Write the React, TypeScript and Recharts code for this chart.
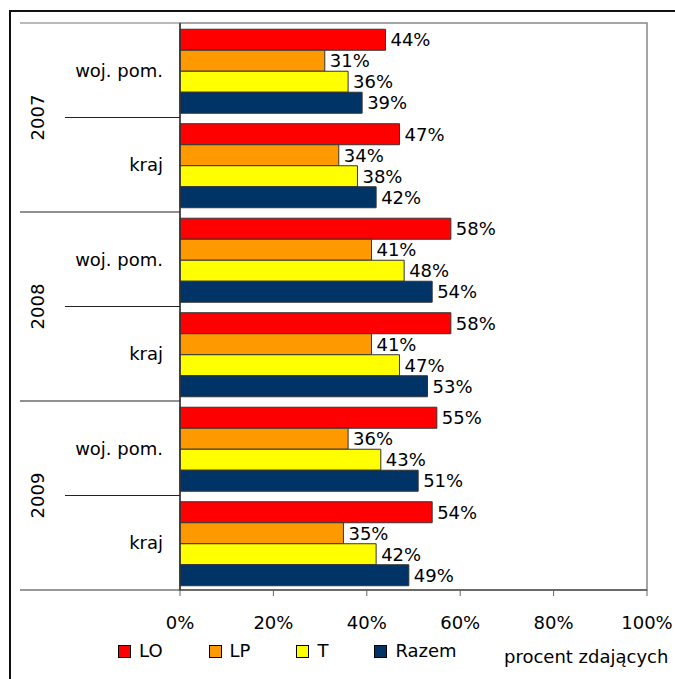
import React from "react";
import { BarChart, Bar, XAxis, YAxis, LabelList, ReferenceArea } from "recharts";

const categories = ["woj. pom.", "kraj", "woj. pom.", "kraj", "woj. pom.", "kraj"];
const years = ["2007", "2007", "2008", "2008", "2009", "2009"];
const lo = [44, 47, 58, 58, 55, 54];
const lp = [31, 34, 41, 41, 36, 35];
const t = [36, 38, 48, 47, 43, 42];
const razem = [39, 42, 54, 53, 51, 49];
const xTicks = [0, 20, 40, 60, 80, 100];

const series = [
  { key: "lo", name: "LO", color: "#FF0000" },
  { key: "lp", name: "LP", color: "#FF9900" },
  { key: "t", name: "T", color: "#FFFF00" },
  { key: "razem", name: "Razem", color: "#003366" },
];

const data = categories.map((name, i) => ({
  name,
  year: years[i],
  lo: lo[i],
  lp: lp[i],
  t: t[i],
  razem: razem[i],
}));

const W = 675;
const H = 679;
const PLOT_LEFT = 180;
const PLOT_TOP = 23;
const PLOT_BOTTOM = 590;
const BAND = (PLOT_BOTTOM - PLOT_TOP) / categories.length;
const FONT = "'DejaVu Sans', sans-serif";

function CategoryTick(props: any) {
  const { y, index } = props;
  const top = y - BAND / 2;
  const isFirstOfYear = index % 2 === 0;
  const isLast = index === categories.length - 1;
  return (
    <g>
      <line
        x1={isFirstOfYear ? 20 : 65}
        x2={PLOT_LEFT}
        y1={top}
        y2={top}
        stroke={index === 0 ? "#777" : "#222"}
        strokeWidth={1.2}
      />
      {isLast && (
        <line x1={20} x2={PLOT_LEFT} y1={y + BAND / 2} y2={y + BAND / 2} stroke="#333" strokeWidth={1.2} />
      )}
      <text x={163} y={y} textAnchor="end" dominantBaseline="central" fontSize={18} fill="#000">
        {props.payload.value}
      </text>
      {isFirstOfYear && (
        <text
          x={37}
          y={y + BAND / 2}
          textAnchor="middle"
          dominantBaseline="central"
          fontSize={18}
          fill="#000"
          transform={`rotate(-90, 37, ${y + BAND / 2})`}
        >
          {years[index]}
        </text>
      )}
    </g>
  );
}

function ChartLegend() {
  return (
    <div
      style={{
        position: "absolute",
        left: 118,
        top: 640,
        display: "flex",
        alignItems: "center",
        fontSize: 18,
        lineHeight: "22px",
      }}
    >
      {series.map((s) => (
        <div key={s.key} style={{ display: "flex", alignItems: "center", marginRight: 46 }}>
          <span
            style={{
              display: "inline-block",
              width: 11,
              height: 11,
              background: s.color,
              border: "1px solid #000",
              marginRight: 8,
            }}
          />
          <span>{s.name}</span>
        </div>
      ))}
    </div>
  );
}

export default function App() {
  return (
    <div
      style={{
        position: "fixed",
        left: 0,
        top: 0,
        width: W,
        height: H,
        overflow: "hidden",
        background: "#fff",
        fontFamily: FONT,
      }}
    >
      <div
        style={{
          position: "absolute",
          left: 9,
          top: 10,
          width: 720,
          height: 720,
          border: "2px solid #111",
        }}
      />
      <BarChart
        width={W}
        height={H}
        data={data}
        layout="vertical"
        margin={{ top: PLOT_TOP, right: W - 647, bottom: H - PLOT_BOTTOM - 40, left: 0 }}
        barCategoryGap="6.6%"
        barGap={0}
      >
        <ReferenceArea x1={0} x2={100} fill="none" stroke="#888" strokeWidth={1.5} />
        <XAxis
          type="number"
          domain={[0, 100]}
          ticks={xTicks}
          tickFormatter={(v) => `${v}%`}
          height={40}
          tickSize={6}
          tickMargin={20}
          axisLine={{ stroke: "#333", strokeWidth: 1.2 }}
          tickLine={{ stroke: "#666" }}
          tick={{ fill: "#000", fontSize: 18 }}
          interval={0}
        />
        <YAxis
          type="category"
          dataKey="name"
          width={PLOT_LEFT}
          tick={<CategoryTick />}
          tickLine={false}
          axisLine={{ stroke: "#333", strokeWidth: 1.5 }}
          interval={0}
        />
        {series.map((s) => (
          <Bar key={s.key} dataKey={s.key} name={s.name} fill={s.color} stroke="#333" strokeWidth={1} isAnimationActive={false}>
            <LabelList
              dataKey={s.key}
              position="right"
              offset={5}
              formatter={(v: any) => `${v}%`}
              fill="#000"
              fontSize={18}
            />
          </Bar>
        ))}
      </BarChart>
      <ChartLegend />
      <div
        style={{
          position: "absolute",
          left: 504,
          top: 646,
          fontSize: 18,
          color: "#000",
          whiteSpace: "nowrap",
        }}
      >
        procent zdających
      </div>
    </div>
  );
}
